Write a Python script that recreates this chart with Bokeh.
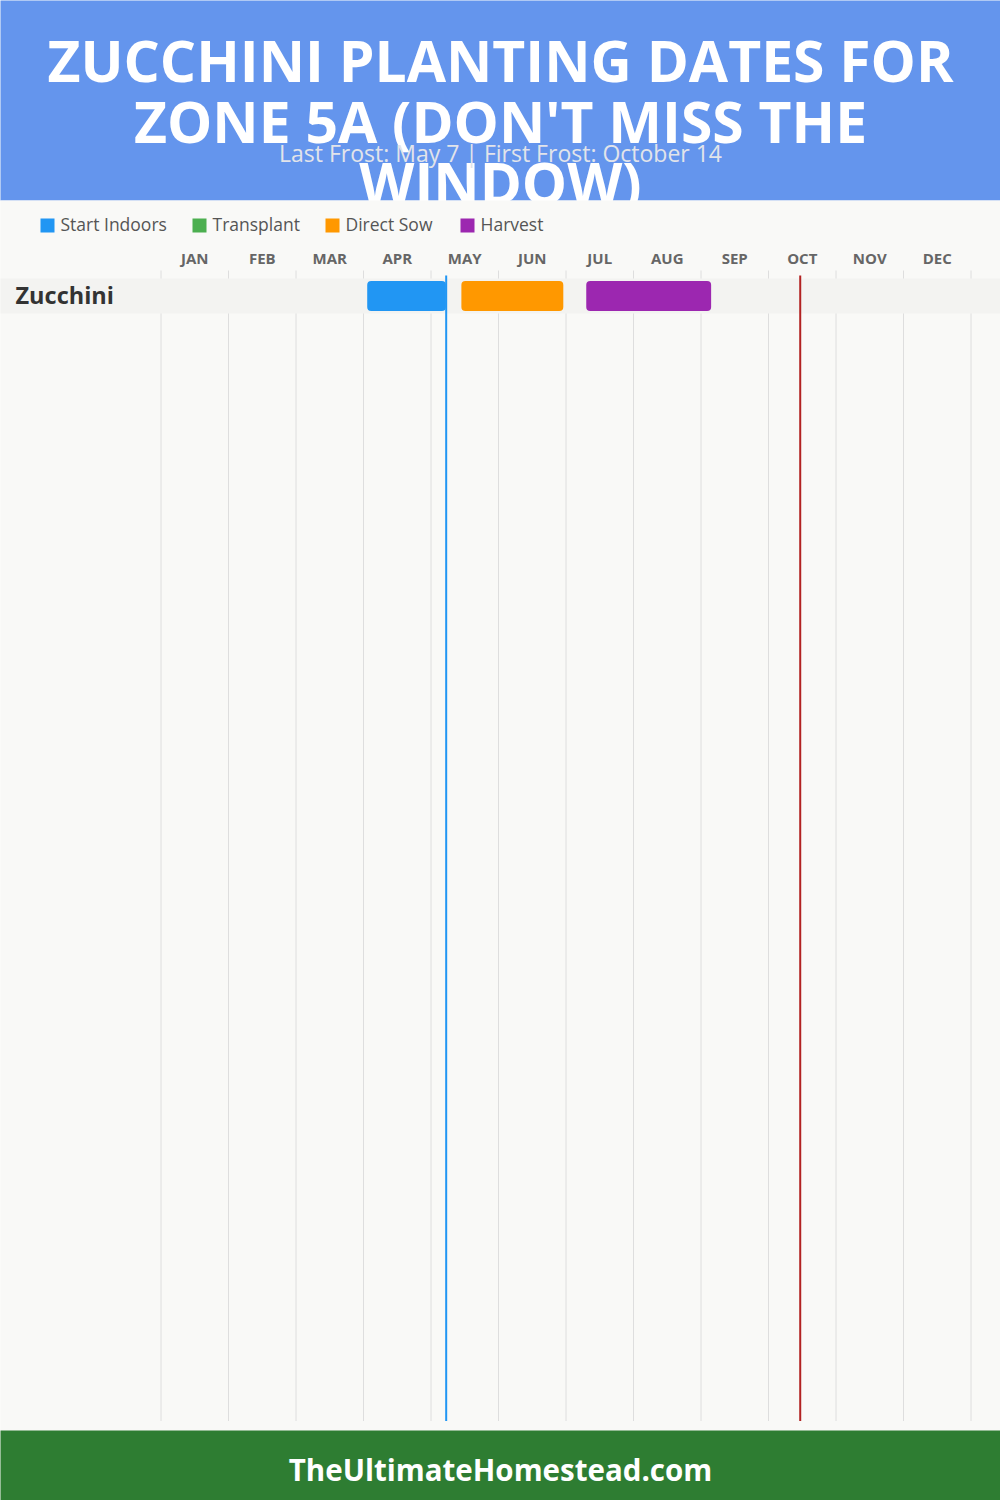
from bokeh.plotting import figure
from bokeh.models import Range1d
from bokeh.embed import file_html
from bokeh.resources import INLINE
from bokeh.core.properties import value

# ---------------- data ----------------
TITLE_LINES = ["ZUCCHINI PLANTING DATES FOR", "ZONE 5A (DON'T MISS THE", "WINDOW)"]
SUBTITLE = "Last Frost: May 7 | First Frost: October 14"
FOOTER = "TheUltimateHomestead.com"
MONTHS = ["JAN", "FEB", "MAR", "APR", "MAY", "JUN",
          "JUL", "AUG", "SEP", "OCT", "NOV", "DEC"]
CROPS = ["Zucchini"]
LEGEND_LABELS = ["Start Indoors", "Transplant", "Direct Sow", "Harvest"]
LEGEND_COLORS = ["#2196F3", "#4CAF50", "#FF9800", "#9C27B0"]

# dates in months from Jan 1 (e.g. 4.22 = May 7)
LAST_FROST = 4.225
FIRST_FROST = 9.47
START_INDOORS_START = [3.055]
START_INDOORS_END = [4.22]
TRANSPLANT_START = []
TRANSPLANT_END = []
DIRECT_SOW_START = [4.45]
DIRECT_SOW_END = [5.96]
HARVEST_START = [6.30]
HARVEST_END = [8.15]

# ---------------- layout ----------------
W, H = 1000, 1500
X0, MW = 160.5, 67.5          # pixel of Jan 1, pixel width of a month
HEADER_H = 200
FOOTER_TOP = 1430
ROW_CENTER0, ROW_H = 295.5, 35
BAR_H = 30
FONT = value("Open Sans")
BASE_SHIFT = 0.42             # renderer places the alphabetic baseline ~0.42em low


def px(x):
    """pixel position -> month units (for layout-only items)"""
    return (x - X0) / MW


def by(y, fs):
    """wanted baseline -> y to pass for a font of size fs"""
    return y - BASE_SHIFT * fs


XL, XR = px(0), px(W)
XC = (XL + XR) / 2
EL, ER = px(-5), px(W + 5)    # slightly beyond the edges for full-bleed bands

p = figure(width=W, height=H, x_range=Range1d(XL, XR), y_range=Range1d(H, 0),
           output_backend="svg", toolbar_location=None, min_border=0,
           x_axis_location=None, y_axis_location=None,
           outline_line_color=None)
p.grid.visible = False
p.background_fill_color = "#f9f9f7"
p.border_fill_color = "#f9f9f7"

# header
p.quad(left=EL, right=ER, top=-5, bottom=HEADER_H, color="#6495ED", line_width=0)
p.text(x=[XC] * len(TITLE_LINES), y=[by(v, 57) for v in (83.5, 144.5, 205.5)],
       text=TITLE_LINES, text_align="center", text_baseline="alphabetic",
       text_font=FONT, text_font_style="bold", text_font_size="57px",
       text_color="white")
p.text(x=[XC], y=[by(162.5, 23)], text=[SUBTITLE], text_align="center",
       text_baseline="alphabetic", text_font=FONT, text_font_size="23px",
       text_color="#e2e4ea")

# chart background (covers overflowing title line)
p.quad(left=EL, right=ER, top=HEADER_H, bottom=FOOTER_TOP, color="#f9f9f7", line_width=0)

# legend
LEG_SQ_X = [40, 192, 325, 460]
p.quad(left=[px(x) for x in LEG_SQ_X], right=[px(x + 14) for x in LEG_SQ_X],
       top=218, bottom=232, color=LEGEND_COLORS, line_width=0)
p.text(x=[px(x + 20) for x in LEG_SQ_X], y=[by(231, 17.5)] * 4, text=LEGEND_LABELS,
       text_align="left", text_baseline="alphabetic", text_font=FONT,
       text_font_size="17.5px", text_color="#555555")

# month labels
p.text(x=[i + 0.5 for i in range(12)], y=[by(264, 15)] * 12, text=MONTHS,
       text_align="center", text_baseline="alphabetic", text_font=FONT,
       text_font_style="bold", text_font_size="15px", text_color="#666666")

# month grid lines
p.segment(x0=list(range(13)), y0=270, x1=list(range(13)), y1=1420.5,
          line_color="#dedede", line_width=1)

# crop rows
row_y = [ROW_CENTER0 + i * ROW_H for i in range(len(CROPS))]
p.quad(left=EL, right=ER, top=[y - ROW_H / 2 for y in row_y],
       bottom=[y + ROW_H / 2 for y in row_y], color="#f3f3f1", line_width=0)
p.text(x=[px(15)] * len(CROPS), y=[by(y + 8.5, 23.5) for y in row_y], text=CROPS,
       text_align="left", text_baseline="alphabetic", text_font=FONT,
       text_font_style="bold", text_font_size="23.5px", text_color="#333333")

for starts, ends, color in [(START_INDOORS_START, START_INDOORS_END, LEGEND_COLORS[0]),
                            (TRANSPLANT_START, TRANSPLANT_END, LEGEND_COLORS[1]),
                            (DIRECT_SOW_START, DIRECT_SOW_END, LEGEND_COLORS[2]),
                            (HARVEST_START, HARVEST_END, LEGEND_COLORS[3])]:
    if not starts:
        continue
    ys = row_y[:len(starts)]
    p.quad(left=starts, right=ends, top=[y - BAR_H / 2 for y in ys],
           bottom=[y + BAR_H / 2 for y in ys], color=color, line_width=0,
           border_radius=4)

# frost lines
p.segment(x0=[LAST_FROST], y0=275, x1=[LAST_FROST], y1=1420.5,
          line_color="#2196F3", line_width=2)
p.segment(x0=[FIRST_FROST], y0=275, x1=[FIRST_FROST], y1=1420.5,
          line_color="#B22222", line_width=2)

# footer
p.quad(left=EL, right=ER, top=FOOTER_TOP, bottom=H + 5, color="#2E7D32", line_width=0)
p.text(x=[XC], y=[by(1481.7, 29.5)], text=[FOOTER], text_align="center",
       text_baseline="alphabetic", text_font=FONT, text_font_style="bold",
       text_font_size="29.5px", text_color="white")

open("out.html", "w").write(file_html(p, INLINE))
